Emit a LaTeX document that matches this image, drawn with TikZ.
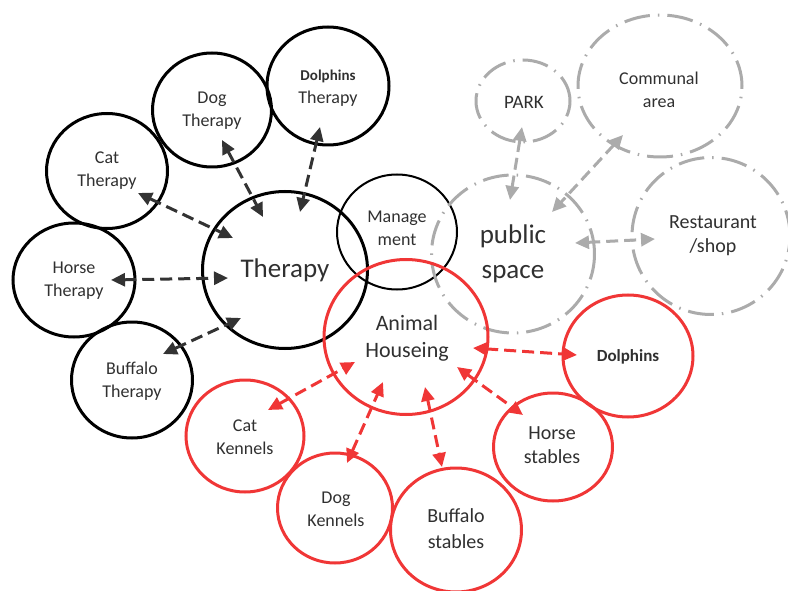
\documentclass[tikz,border=0pt]{standalone}
\usepackage{fontspec}
\setmainfont{Carlito}
\usetikzlibrary{arrows.meta,shapes.geometric}
\definecolor{txtc}{HTML}{303030}
\definecolor{redc}{HTML}{F03636}
\definecolor{grayc}{HTML}{ABABAB}
\definecolor{arrc}{HTML}{333333}
\begin{document}
\begin{tikzpicture}[x=1pt,y=-1pt,
  blk/.style={ellipse,draw=black,line width=3pt,inner sep=0pt},
  thin/.style={ellipse,draw=black,line width=2pt,inner sep=0pt},
  rd/.style={ellipse,draw=redc,line width=3pt,inner sep=0pt},
  gr/.style={ellipse,draw=grayc,line width=3pt,inner sep=0pt,dash pattern=on 26pt off 8pt on 1.5pt off 8pt},
  lbl/.style={align=center,text=txtc,font=\fontsize{18}{23}\selectfont,inner sep=0pt},
  biglbl/.style={align=center,text=txtc,font=\fontsize{27}{35}\selectfont,inner sep=0pt},
  midlbl/.style={align=center,text=txtc,font=\fontsize{22}{27}\selectfont,inner sep=0pt},
  barr/.style={draw=arrc,line width=3pt,dash pattern=on 12pt off 6pt,{Triangle[length=14pt,width=13pt]}-{Triangle[length=14pt,width=13pt]}},
  rarr/.style={draw=redc,line width=3pt,dash pattern=on 12pt off 6pt,{Triangle[length=14pt,width=13pt]}-{Triangle[length=14pt,width=13pt]}},
  garr/.style={draw=grayc,line width=3pt,dash pattern=on 12pt off 6pt,{Triangle[length=14pt,width=13pt]}-{Triangle[length=14pt,width=13pt]}}
]
\useasboundingbox (0,0) rectangle (788,591);

% black therapy circles
\node[blk,minimum width=119pt,minimum height=114pt] (dogc) at (212,110) {};
\node[blk,minimum width=122pt,minimum height=118pt] (dolc) at (328,86) {};
\node[blk,minimum width=121pt,minimum height=115pt] (catc) at (107,171) {};
\node[blk,minimum width=122pt,minimum height=114pt] (horc) at (74,280) {};
\node[blk,minimum width=121pt,minimum height=116pt] (bufc) at (132,380) {};
\node[blk,minimum width=165pt,minimum height=157pt] (thc) at (285,270) {};
\node[thin,minimum width=120pt,minimum height=115pt] (mgc) at (397,232) {};

% gray public space circles
\node[gr,minimum width=94pt,minimum height=82pt] (parkc) at (523,101) {};
\node[gr,minimum width=164pt,minimum height=142pt] (comc) at (660,86) {};
\node[gr,minimum width=163pt,minimum height=158pt] (pubc) at (513,254) {};
\node[gr,minimum width=158pt,minimum height=157pt] (resc) at (711,236) {};

% red housing circles
\node[rd,minimum width=164pt,minimum height=155pt] (ahc) at (406,337) {};
\node[rd,minimum width=118pt,minimum height=112pt] (ckc) at (245,436) {};
\node[rd,minimum width=115pt,minimum height=110pt] (dkc) at (335,508) {};
\node[rd,minimum width=131pt,minimum height=124pt] (bsc) at (456,530) {};
\node[rd,minimum width=119pt,minimum height=108pt] (hsc) at (553,447) {};
\node[rd,minimum width=130pt,minimum height=122pt] (drc) at (628,356) {};

% labels
\node[lbl] (dogt) at (212,111) {Dog\\Therapy};
\node[lbl] (dolt) at (328,88) {{\fontsize{15}{23}\selectfont\bfseries Dolphins}\\Therapy};
\node[lbl] (catt) at (107,171) {Cat\\Therapy};
\node[lbl] (hort) at (74,281) {Horse\\Therapy};
\node[lbl] (buft) at (132,381) {Buffalo\\Therapy};
\node[biglbl] (tht) at (285,270) {Therapy};
\node[lbl] (mgt) at (397,228) {Manage\\ment};
\node[lbl,font=\fontsize{19}{23}\selectfont] (parkt) at (524,102) {PARK};
\node[lbl] (comt) at (659,90) {Communal\\area};
\node[biglbl] (pubt) at (513,254) {public\\space};
\node[lbl,font=\fontsize{20}{24}\selectfont] (rest) at (713,236) {Restaurant\\/shop};
\node[midlbl] (aht) at (407,338) {Animal\\Houseing};
\node[lbl] (ckt) at (245,437) {Cat\\Kennels};
\node[lbl] (dkt) at (336,509) {Dog\\Kennels};
\node[lbl,font=\fontsize{20}{26}\selectfont] (bst) at (456,529) {Buffalo\\stables};
\node[lbl,font=\fontsize{20}{24}\selectfont] (hst) at (552,445) {Horse\\stables};
\node[lbl,font=\fontsize{17}{20}\selectfont\bfseries] (drt) at (628,357) {Dolphins};

% arrow end coordinates
\coordinate (a1) at (138,193); \coordinate (b1) at (233,238);
\coordinate (a2) at (222,140); \coordinate (b2) at (263,217);
\coordinate (a3) at (320,127); \coordinate (b3) at (300,212);
\coordinate (a4) at (111,280); \coordinate (b4) at (228,278);
\coordinate (a5) at (163,354); \coordinate (b5) at (241,318);
\coordinate (a6) at (522,127); \coordinate (b6) at (510,200);
\coordinate (a7) at (623,135); \coordinate (b7) at (552,212);
\coordinate (a8) at (575,243); \coordinate (b8) at (655,239);
\coordinate (a9) at (268,410); \coordinate (b9) at (355,362);
\coordinate (a10) at (347,463); \coordinate (b10) at (383,382);
\coordinate (a11) at (425,387); \coordinate (b11) at (442,467);
\coordinate (a12) at (457,367); \coordinate (b12) at (523,415);
\coordinate (a13) at (473,348); \coordinate (b13) at (577,355);

\draw[barr] (a1) -- (b1);
\draw[barr] (a2) -- (b2);
\draw[barr] (a3) -- (b3);
\draw[barr] (a4) -- (b4);
\draw[barr] (a5) -- (b5);
\draw[garr] (a6) -- (b6);
\draw[garr] (a7) -- (b7);
\draw[garr] (a8) -- (b8);
\draw[rarr] (a9) -- (b9);
\draw[rarr] (a10) -- (b10);
\draw[rarr] (a11) -- (b11);
\draw[rarr] (a12) -- (b12);
\draw[rarr] (a13) -- (b13);
\end{tikzpicture}
\end{document}
